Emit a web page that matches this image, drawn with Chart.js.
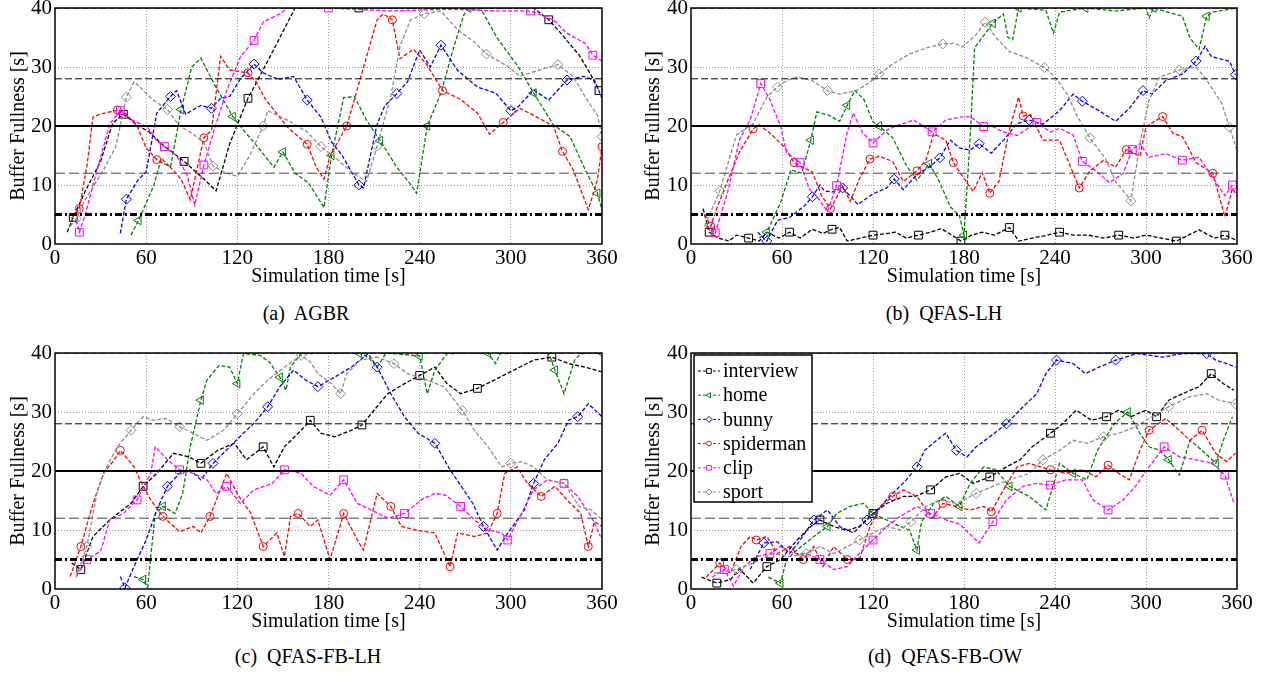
<!DOCTYPE html>
<html>
<head>
<meta charset="utf-8">
<script src="https://cdn.jsdelivr.net/npm/chart.js@4.4.1/dist/chart.umd.min.js"></script>
<style>
body{margin:0;background:#fff;width:1273px;height:676px;position:relative;overflow:hidden}
canvas{position:absolute}
.cap{position:absolute;width:400px;text-align:center;font-family:"Liberation Serif",serif;font-size:20px;color:#000}
</style>
</head>
<body>
<canvas id="ca" width="625" height="290" style="left:0px;top:0px"></canvas>
<canvas id="cb" width="625" height="290" style="left:635px;top:0px"></canvas>
<canvas id="cc" width="625" height="290" style="left:0px;top:345px"></canvas>
<canvas id="cd" width="625" height="290" style="left:635px;top:345px"></canvas>
<div class="cap" style="left:106px;top:302px">(a)&nbsp; AGBR</div>
<div class="cap" style="left:744px;top:302px">(b)&nbsp; QFAS-LH</div>
<div class="cap" style="left:108px;top:645px">(c)&nbsp; QFAS-FB-LH</div>
<div class="cap" style="left:745px;top:645px">(d)&nbsp; QFAS-FB-OW</div>
<script>
// series labels and reference levels
var seriesNames = ['interview','home','bunny','spiderman','clip','sport'];
var refLevels = [40, 28, 20, 12, 5];

// (a) AGBR  [time s, buffer s]
var agbrInterview = [[8,2],[12,4.5],[20,9],[30,14],[38,20.5],[45,22],[55,20],[62,19],[70,17],[85,14],[98,11],[106,9],[115,17],[127,24.7],[140,31],[150,36],[158,40],[200,40],[221,40],[260,40],[315,40],[325,38],[332,36],[345,32],[352,29],[358,26]];
var agbrHome = [[50,1.5],[55,4],[65,9.9],[70,14.5],[76,13],[83,22.8],[90,30],[96,31.5],[105,27],[117,21.6],[125,19],[133,16.6],[144,13],[150,15.6],[158,12],[167,10.3],[177,6.2],[182,15],[190,24.8],[197,25],[205,21],[214,17.5],[225,13],[234,10.1],[238,8.6],[245,20],[254,25.6],[262,33],[269,38.8],[272,40],[281,39.5],[291,34.9],[305,30],[315,25.6],[328,20.2],[339,18.2],[350,12],[357,8.6],[360,5.8]];
var agbrBunny = [[43,1.8],[47,7.6],[55,11],[60,12.2],[67,22.2],[76,25],[80,26],[86,22],[96,23.5],[103,23],[109,24.7],[115,25],[122,28],[131,30.5],[137,29],[147,27.9],[157,28.4],[166,24.4],[175,21.5],[182,17.3],[189,15],[200,10],[203,9.5],[212,20.3],[217,23.4],[225,25.5],[232,27.5],[240,32.9],[247,30],[254,33.7],[265,29.4],[278,26.6],[290,25.6],[300,22.6],[305,23.3],[315,26.1],[325,24.4],[337,27.8],[348,28.4],[355,27.8],[360,24.7]];
var agbrSpiderman = [[11,4.4],[16,6],[21,13.2],[25,21.5],[30,22],[41,22.7],[46,22.2],[54,20],[60,16.3],[67,14.3],[76,13],[83,11],[89,7.5],[98,18],[103,19.3],[109,31.8],[115,29.5],[127,29],[133,27.2],[138,24.7],[153,19.8],[166,16.9],[172,13],[177,11],[181,14.9],[192,20],[202,29],[212,38],[216,39],[222,38],[227,31.4],[236,33],[245,30.3],[255,26],[267,24.5],[278,22.2],[286,18.6],[295,20.6],[306,23],[315,21.8],[328,20],[334,15.7],[341,12.6],[351,5.8],[357,10.9],[360,16.5]];
var agbrClip = [[14,4],[16,2],[20,5],[25,10],[36,20.3],[43,22.6],[51,21],[61,19.8],[67,17.5],[72,16.5],[80,15],[87,11.6],[92,6.6],[98,13.4],[105,19.5],[113,26],[122,31.7],[131,34.5],[137,37.6],[148,39],[153,40],[180,40],[220,39.5],[260,39.8],[290,39.5],[313,39.5],[328,38],[337,35.7],[349,34],[354,32],[360,31]];
var agbrSport = [[10,3],[14,4.3],[20,7.6],[32,12.6],[40,16.5],[47,24.9],[52,27.5],[56,26.6],[64,24.5],[74,22.8],[82,20],[90,18.8],[98,17.2],[104,13.2],[113,12],[120,11.5],[128,14.9],[137,20],[140,22.6],[153,21],[166,19],[175,16.5],[186,14.3],[196,12],[205,10.6],[212,16.6],[221,25],[227,33.5],[234,38],[243,39],[254,39.5],[265,36.3],[276,34.2],[284,32.2],[298,30.1],[306,28.4],[320,29.6],[331,30.4],[341,28.4],[350,24.5],[357,21.8],[360,18.2]];

// (b) QFAS-LH
var lhInterview = [[8,6],[12,2],[18,1],[25,0.5],[30,1.5],[38,1],[45,0.5],[50,2],[58,1],[65,2],[72,1],[80,2.5],[87,1.8],[93,2.5],[98,2.8],[103,0.5],[112,1],[120,1.5],[127,1.7],[135,2],[142,1],[150,1.5],[158,2],[165,2.6],[172,1.5],[178,0.5],[185,1.5],[192,2],[200,1.5],[210,2.8],[216,0.5],[225,1],[235,1.5],[243,2],[252,1.5],[262,1.5],[272,1],[282,1.5],[292,1],[300,1.5],[310,1],[320,0.5],[328,1.5],[335,2.4],[345,1],[352,1.5],[360,0.6]];
var lhHome = [[45,1],[50,2],[59,7],[66,12.6],[73,12],[79,17.6],[83,22.4],[91,21.8],[98,20.8],[103,23.5],[108,26],[114,24.5],[120,20.7],[124,20],[133,18],[142,13.3],[149,10.8],[157,13.6],[163,11],[171,6.3],[177,4.8],[180,1.5],[184,17.8],[187,33.3],[192,35],[199,37.4],[206,39],[209,35],[212,34.6],[216,40],[234,39.6],[239,35.7],[243,39.3],[260,40],[280,39.5],[300,40],[302,38.3],[305,40],[324,38.6],[329,34.9],[335,33],[340,38.6],[344,39.3],[360,40]];
var lhBunny = [[44,2],[50,0.5],[57,4],[65,4.5],[75,6.5],[80,8],[85,10],[88,9],[93,8.8],[100,9.5],[110,6.7],[120,8.5],[129,9.5],[134,11],[140,9.2],[149,11.8],[157,13],[164,14.6],[171,17.6],[177,16.3],[184,15.9],[190,17],[198,15.4],[206,17.6],[215,20.4],[223,21],[232,20.3],[243,22.6],[252,25.4],[258,24.2],[269,22.6],[280,20.8],[289,23],[298,26],[304,25.4],[313,27.7],[324,28.8],[333,31],[339,33.5],[343,31.8],[355,31],[359,28.7]];
var lhSpiderman = [[9,5],[13,3],[17,6],[24,10.6],[32,15.6],[41,19.5],[45,20.2],[53,18.6],[62,16.3],[68,13.8],[72,13.2],[80,12.2],[86,8.2],[92,6],[100,9.8],[105,7.2],[111,11],[118,14.4],[124,14.9],[133,14],[140,10.6],[149,12.4],[155,14.3],[160,18.7],[168,17.6],[173,13.8],[179,11.5],[186,8.9],[192,12.1],[197,8.6],[203,10.6],[210,19.4],[216,24.9],[219,21.7],[224,21.9],[232,17.6],[243,17.6],[256,9.5],[263,12.4],[272,14.2],[280,13],[287,16],[296,14.9],[300,19.9],[307,21],[311,21.6],[318,18.7],[324,18.2],[333,13.8],[344,12],[352,4.6],[357,9.4],[360,8.2]];
var lhClip = [[14,4],[16,1.9],[24,8.6],[32,17.7],[39,21],[46,27.2],[52,24.5],[59,20],[63,15.5],[72,13.8],[78,9.3],[84,7.7],[90,5.5],[96,9.9],[103,18.9],[107,22.2],[113,18.9],[120,17.1],[129,19.3],[135,20],[147,21],[159,19],[168,21],[177,21.5],[184,21.6],[193,19.9],[198,20],[206,19],[215,18.4],[228,20.6],[237,19],[243,19.6],[252,18.5],[258,14],[267,12.4],[276,10.4],[285,12],[291,16],[296,17],[302,14.7],[313,15.3],[324,14.2],[335,14.7],[344,11.3],[352,8.2],[357,10]];
var lhSport = [[9,3],[19,9],[30,18.5],[41,20.4],[50,24.9],[57,26.6],[63,27.7],[70,28.3],[80,27.7],[90,26],[98,25.4],[109,26],[118,27.4],[124,28.8],[133,30.5],[144,32.2],[156,33.3],[166,33.9],[174,34],[179,33.4],[188,35.5],[194,37.6],[201,35],[210,32.6],[221,31.6],[233,29.9],[240,28.3],[248,25.4],[254,22],[263,18],[273,14.6],[280,10.6],[287,8.4],[290,7.3],[296,17],[302,24.4],[309,28.3],[322,29.5],[333,30],[340,27.8],[350,23.8],[355,19.8],[360,15.9]];

// (c) QFAS-FB-LH
var fbInterview = [[11,4.4],[17,3.3],[25,8.9],[36,11.7],[50,14.5],[58,17.4],[67,19.6],[78,23],[88,22.4],[96,21.3],[107,23.5],[118,24.7],[126,21.9],[137,24.1],[144,20.7],[151,24.1],[162,26.9],[168,28.6],[175,26.4],[184,25.8],[195,26.9],[202,27.8],[210,30.3],[219,33.1],[230,34.8],[240,36.2],[250,37.6],[258,34.8],[267,33.1],[278,34],[289,35.4],[302,37.1],[315,38.8],[327,39.3],[338,38.2],[349,37.6],[360,36.8]];
var fbHome = [[52,2.1],[58,1.6],[61,0.3],[63,5.5],[66,12.8],[71,14],[79,12.8],[84,16.2],[89,24.1],[96,32],[100,35.4],[108,37.9],[115,37.6],[120,34.8],[124,39.9],[135,39.6],[141,38.5],[148,35.9],[152,33.7],[155,37.6],[162,39.9],[200,40],[206,39.3],[212,37.6],[218,40],[240,39.5],[245,33.1],[250,37.1],[258,39.9],[285,40],[290,38.2],[293,39.9],[325,40],[329,37.1],[335,33.1],[342,38.8],[346,39.9],[360,40]];
var fbBunny = [[43,2.1],[46,0.2],[52,3.8],[60,8.3],[67,13.4],[74,17.4],[82,19.6],[89,20.2],[96,18.5],[104,21.3],[115,24.1],[124,26.4],[131,28.1],[140,30.9],[148,34.3],[157,37.1],[165,35.4],[173,34.3],[184,35.9],[195,37.6],[206,39.9],[212,37.6],[221,33.1],[230,29.2],[239,26.4],[250,24.7],[260,20.2],[269,16.8],[275,14.5],[282,10.6],[291,6.6],[298,9.5],[309,13.4],[315,17.9],[322,21.9],[331,24.7],[338,28.6],[344,29.2],[351,31.4],[360,29.2]];
var fbSpiderman = [[10,2.1],[17,7.2],[25,14.5],[32,19.6],[39,21.9],[43,23.5],[52,20.7],[56,18.5],[63,15.1],[71,12.3],[82,9.7],[91,10.6],[96,9.5],[102,12.3],[113,19.6],[121,15.7],[129,12.8],[137,7.2],[146,9.5],[151,5.5],[155,12.3],[160,12.8],[168,10.6],[173,11.7],[181,5],[190,12.8],[199,8.3],[203,6.6],[212,16.2],[221,14],[228,10.6],[237,10],[250,9.5],[260,3.8],[265,9.5],[276,8.9],[285,9.5],[291,12.8],[296,19.6],[304,20.7],[311,17.9],[320,15.7],[329,17.4],[337,15.1],[346,12.8],[351,7.2],[355,11.4],[360,10.6]];
var fbClip = [[14,2.1],[21,5],[30,6.4],[36,11.7],[45,12.8],[54,15.1],[63,19.6],[66,24.1],[74,21.9],[82,20.2],[91,19.6],[100,18.5],[106,16.2],[113,17.4],[122,14.5],[131,16.8],[143,17.9],[151,20.2],[162,19.6],[170,17.4],[181,15.9],[190,18.5],[199,14.5],[208,13.4],[219,12],[230,12.8],[241,15.1],[250,16.2],[257,15.9],[267,14],[276,11.7],[285,10],[294,9.5],[298,8.3],[307,12.8],[315,16.8],[324,18.5],[335,17.9],[344,15.7],[353,12.3],[359,8.9]];
var fbSport = [[14,2],[21,7.2],[28,16.8],[34,20.7],[41,24.1],[50,26.9],[58,29.2],[65,28.6],[73,28.9],[82,27.5],[91,26.4],[100,25.2],[111,26.9],[120,29.7],[131,33.1],[140,35.4],[151,37.6],[162,39.6],[168,38.5],[173,36.5],[182,34.8],[188,33.1],[192,36.5],[201,38.8],[212,39.3],[223,38.2],[232,36.5],[245,35.4],[256,34.3],[268,30.3],[276,26.9],[285,24.1],[294,20.7],[300,21.3],[307,21.6],[315,20.7],[324,18.5],[335,17.9],[345,14],[353,13.4],[360,11.7]];

// (d) QFAS-FB-OW
var owInterview = [[7,2],[17,1],[26,1.6],[32,3.4],[41,1],[50,3.8],[59,5],[70,8.3],[79,10.6],[85,11.7],[94,10.6],[103,9.9],[111,10.6],[120,12.8],[129,14.5],[140,15.7],[148,15.7],[158,16.8],[168,19],[177,19.6],[186,17.9],[197,19],[208,20.7],[217,21.9],[225,24.1],[237,26.4],[245,28],[254,30.3],[264,28.6],[274,29.2],[282,30.3],[290,29.2],[300,30.3],[307,29.2],[315,32],[324,33.1],[335,34.3],[343,36.5],[351,34.8],[358,33.7]];
var owHome = [[51,2],[59,1],[63,5],[70,6.6],[81,8.9],[90,10.6],[96,12.8],[105,14],[114,14.5],[120,12.8],[129,11.7],[138,10.6],[144,10],[149,6.6],[152,11.4],[160,14.5],[168,15.7],[177,14],[184,17.9],[193,20.7],[201,20.2],[210,17.4],[223,15.7],[234,13.4],[243,21.3],[252,19.6],[261,18.5],[268,23.5],[279,28],[288,30],[296,26.4],[302,24.1],[309,23.5],[315,21.9],[322,19.3],[329,25.2],[337,23.5],[346,21.3],[351,25.2],[357,29.2]];
var owBunny = [[39,3.3],[48,7.8],[57,8],[65,6],[72,8.3],[81,11.7],[90,13.4],[98,10.6],[107,9.5],[116,11.7],[125,14],[133,16.2],[142,18.5],[149,20.7],[154,23.5],[162,25.2],[168,26.4],[175,23.5],[182,22.4],[188,24.1],[197,25.8],[208,28],[219,30.9],[228,33.1],[234,36.5],[241,38.8],[252,38.2],[260,36.5],[269,37.6],[280,38.8],[294,39.9],[311,39.3],[324,39.9],[340,39.9],[346,38.8],[353,38.2],[359,37.6]];
var owSpiderman = [[10,2],[19,4.4],[26,2.7],[33,7.2],[39,8.9],[43,8.3],[50,8.9],[57,6],[65,7.2],[74,5],[81,7.2],[87,3.8],[94,7.2],[103,5],[111,5],[118,10.6],[125,14],[133,15.7],[140,16.8],[149,15.7],[159,12],[166,14.5],[175,14],[184,13.4],[193,14],[198,13.1],[206,16.8],[215,20.7],[223,21.3],[237,20.2],[247,19.6],[258,20.2],[267,19],[275,21],[282,19.6],[289,18.5],[296,23.5],[302,26.9],[313,28.9],[322,26.9],[329,25.2],[337,26.9],[346,23],[353,21.6],[359,23]];
var owClip = [[14,2],[22,3.3],[28,0.5],[35,3.8],[43,5.5],[52,6],[59,7.2],[68,6],[76,6],[85,5],[94,3.3],[103,3.8],[111,6],[120,8.3],[129,10.6],[138,12.3],[149,14],[158,12.8],[168,11.7],[177,11],[190,7.8],[199,11.4],[208,15.1],[219,17.4],[228,17.9],[237,17.6],[247,18.5],[258,18.5],[265,15.1],[275,13.4],[285,15.1],[293,17.4],[302,20.7],[312,24.1],[322,22.4],[333,21.9],[344,21.3],[352,19.3],[358,14.5]];
var owSport = [[15,2.7],[30,3.3],[41,4.4],[54,6],[65,5.5],[76,6],[85,7.2],[94,6],[103,7.2],[111,8.3],[120,9.5],[129,10.6],[138,10],[145,11.4],[155,14],[164,15.1],[175,14.5],[188,16.2],[199,17.4],[210,18.5],[223,19.6],[232,21.9],[243,23.5],[252,25.2],[261,24.7],[272,25.8],[282,26.4],[293,27.5],[304,29.2],[315,30.9],[329,32.6],[340,33.1],[348,32],[359,31.4]];

var serif = '"Liberation Serif", "Times New Roman", serif';
var lineColors = ['#000000','#008000','#0000ff','#ff0000','#ff00ff','#8c8c8c'];
var markerStyles = ['rect','triangle','rectRot','circle','rect','rectRot'];
var markerRot = [0,-90,0,0,0,0];
var markerSize = [5.5,5,5,4,5.5,5];
var refStyles = [
	{w:1, dash:[6,3], c:'#000'},
	{w:1, dash:[7,3], c:'#000'},
	{w:2, dash:[], c:'#000'},
	{w:1, dash:[10,4], c:'#444'},
	{w:3, dash:[7,3,2,3], c:'#000'}
];

var boxPlugin = {
	id: 'boxFrame',
	afterDatasetsDraw: function(chart) {
		var a = chart.chartArea, c = chart.ctx;
		c.save();
		c.setLineDash([]);
		c.strokeStyle = '#000';
		c.lineWidth = 1.5;
		c.strokeRect(a.left, a.top, a.right - a.left, a.bottom - a.top);
		c.restore();
	},
	afterDraw: function(chart, args, opts) {
		if (!opts.legend) return;
		var a = chart.chartArea, c = chart.ctx;
		var x0 = a.left + 3, y0 = a.top + 2, w = 118, h = 147;
		c.save();
		c.setLineDash([]);
		c.fillStyle = '#fff';
		c.fillRect(x0, y0, w, h);
		c.strokeStyle = '#000';
		c.lineWidth = 1.5;
		c.strokeRect(x0, y0, w, h);
		c.font = '20px ' + serif;
		c.textBaseline = 'middle';
		for (var i = 0; i < seriesNames.length; i++) {
			var yy = y0 + 16 + i * 24.2;
			c.strokeStyle = lineColors[i];
			c.lineWidth = 1;
			c.setLineDash([3, 2]);
			c.beginPath();
			c.moveTo(x0 + 4, yy);
			c.lineTo(x0 + 26, yy);
			c.stroke();
			c.setLineDash([]);
			c.fillStyle = '#fff';
			Chart.helpers.drawPoint(c, {pointStyle: markerStyles[i], rotation: markerRot[i], radius: markerSize[i] * 0.6, borderWidth: 1}, x0 + 15, yy);
			c.fillStyle = '#000';
			c.fillText(seriesNames[i], x0 + 29, yy + 1);
		}
		c.restore();
	}
};

function gridCol(maxV) {
	return function(ctx) {
		var v = ctx.tick ? ctx.tick.value : 0;
		return (v === 0 || v === maxV) ? 'rgba(0,0,0,0)' : '#9a9a9a';
	};
}

function makeChart(id, series, yWidth, showLegend) {
	var ds = [];
	for (var r = 0; r < refLevels.length; r++) {
		ds.push({
			data: [{x: 0, y: refLevels[r]}, {x: 360, y: refLevels[r]}],
			borderColor: refStyles[r].c,
			borderWidth: refStyles[r].w,
			borderDash: refStyles[r].dash,
			pointRadius: 0,
			order: 0
		});
	}
	for (var i = 0; i < series.length; i++) {
		ds.push({
			label: seriesNames[i],
			data: series[i].map(function(p) { return {x: p[0], y: p[1]}; }),
			borderColor: lineColors[i],
			borderWidth: 1.3,
			borderDash: [4, 2],
			pointStyle: markerStyles[i],
			pointRotation: markerRot[i],
			pointBorderColor: lineColors[i],
			pointBackgroundColor: 'rgba(0,0,0,0)',
			pointBorderWidth: 1,
			pointRadius: (function(sz) { return function(ctx) { return ctx.dataIndex % 4 === 1 ? sz : 0; }; })(markerSize[i]),
			tension: 0,
			order: 6 - i
		});
	}
	new Chart(document.getElementById(id).getContext('2d'), {
		type: 'line',
		data: {datasets: ds},
		options: {
			responsive: false,
			animation: false,
			devicePixelRatio: 1,
			layout: {padding: {left: 0, right: 23, top: 8, bottom: 0}},
			plugins: {legend: {display: false}, tooltip: {enabled: false}, boxFrame: {legend: showLegend}},
			scales: {
				x: {
					type: 'linear', min: 0, max: 360,
					ticks: {stepSize: 60, color: '#000', font: {family: serif, size: 21}, padding: 2, maxRotation: 0},
					grid: {color: gridCol(360), drawTicks: false, lineWidth: 1},
					border: {display: false, dash: [1, 2]},
					title: {display: true, text: 'Simulation time [s]', color: '#000', font: {family: serif, size: 20}, padding: {top: 0, bottom: 1}},
					afterFit: function(s) { s.height = 46; s.paddingLeft = 0; s.paddingRight = 0; }
				},
				y: {
					type: 'linear', min: 0, max: 40,
					ticks: {stepSize: 10, color: '#000', font: {family: serif, size: 21}, padding: 3},
					grid: {color: gridCol(40), drawTicks: false, lineWidth: 1},
					border: {display: false, dash: [1, 2]},
					title: {display: true, text: 'Buffer Fullness [s]', color: '#000', font: {family: serif, size: 20}, padding: {top: 7, bottom: 0}},
					afterFit: function(s) { s.width = yWidth; s.paddingTop = 0; s.paddingBottom = 0; }
				}
			}
		},
		plugins: [boxPlugin]
	});
}

makeChart('ca', [agbrInterview, agbrHome, agbrBunny, agbrSpiderman, agbrClip, agbrSport], 55, false);
makeChart('cb', [lhInterview, lhHome, lhBunny, lhSpiderman, lhClip, lhSport], 56, false);
makeChart('cc', [fbInterview, fbHome, fbBunny, fbSpiderman, fbClip, fbSport], 55, false);
makeChart('cd', [owInterview, owHome, owBunny, owSpiderman, owClip, owSport], 56, true);
</script>
</body>
</html>
